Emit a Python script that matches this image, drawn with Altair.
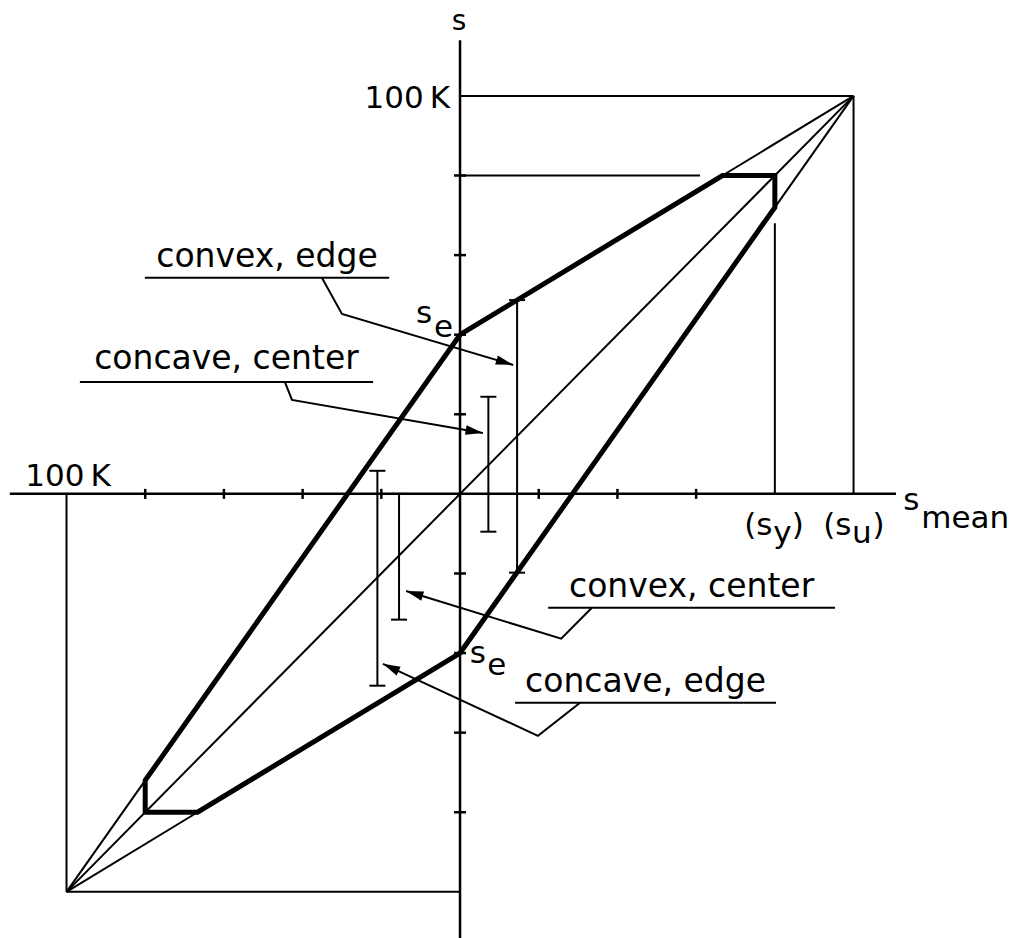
import math

import altair as alt
import pandas as pd

# Plot frame (values in K units)
W, H = 1033, 938
X_DOMAIN = [-116.9, 145.6]
Y_DOMAIN = [-111.6, 124.1]
FONT = "DejaVu Sans"
INK = "black"

# Envelope of allowed stress: fatigue lines clipped at yield (thick outline)
env_x = [0, 66.7, 80, 80, 0, -66.7, -80, -80, 0]
env_y = [40, 80, 80, 72, -40, -80, -80, -72, 40]

# Thin construction lines: (x1, y1) -> (x2, y2)
thin_x1 = [-100, 66.7, 80, -100, -100, 0, 100, -100, -100, 0, 80]
thin_y1 = [-100, 80, 72, -100, -100, 100, 100, -100, -100, 80, 68]
thin_x2 = [100, 100, 100, -80, -66.7, 100, 100, 0, -100, 61, 80]
thin_y2 = [100, 100, 100, -72, -80, 100, 0, -100, 0, 80, 0]

# Axes
axis_x1 = [-114.4, 0]
axis_y1 = [0, 114.0]
axis_x2 = [110.8, 0]
axis_y2 = [0, -112.0]

# Tick positions
x_ticks = [-80, -60, -40, -20, 20, 40, 60]
y_ticks = [-80, -60, -40, -20, 20, 40, 60, 80]

# Stress ranges: mean position, lower and upper stress
bar_x = [14.5, 7.2, -21.0, -15.5]
bar_lo = [-19.8, -9.5, -48.2, -31.6]
bar_hi = [48.7, 24.4, 5.8, 0.0]

# Callout labels, their underlines and leader lines (last point is the arrow tip)
labels = ["convex, edge", "concave, center", "convex, center", "concave, edge"]
under_x1 = [-80.1, -96.6, 22.4, 14.0]
under_x2 = [-18.0, -22.1, 95.3, 80.3]
under_y = [54.3, 28.1, -28.6, -52.5]
label_dy = [2.8, 3.2, 2.8, 2.6]
leader_x = [[-35.1, -30.0, 13.5], [-44.5, -42.7, 5.8], [33.5, 25.7, -13.7], [30.5, 19.8, -19.6]]
leader_y = [[54.3, 45.2, 32.4], [28.1, 23.6, 15.3], [-28.6, -36.4, -24.4], [-52.5, -60.8, -42.7]]

xs = alt.Scale(domain=X_DOMAIN, nice=False, zero=False)
ys = alt.Scale(domain=Y_DOMAIN, nice=False, zero=False)
kx = W / (X_DOMAIN[1] - X_DOMAIN[0])
ky = H / (Y_DOMAIN[1] - Y_DOMAIN[0])


def X(f="x"):
    return alt.X(f"{f}:Q", scale=xs, axis=None)


def Y(f="y"):
    return alt.Y(f"{f}:Q", scale=ys, axis=None)


# --- tables ---
env_df = pd.DataFrame({"x": env_x, "y": env_y, "o": range(len(env_x))})
thin_df = pd.DataFrame({"x": thin_x1, "y": thin_y1, "x2": thin_x2, "y2": thin_y2})
axis_df = pd.DataFrame({"x": axis_x1, "y": axis_y1, "x2": axis_x2, "y2": axis_y2})
xt_df = pd.DataFrame({"x": x_ticks, "y": [0] * len(x_ticks)})
yt_df = pd.DataFrame({"x": [0] * len(y_ticks), "y": y_ticks})
bar_df = pd.DataFrame({"x": bar_x, "y": bar_lo, "y2": bar_hi})
cap_df = pd.DataFrame({"x": bar_x + bar_x, "y": bar_lo + bar_hi})
under_df = pd.DataFrame({"x": under_x1, "x2": under_x2, "y": under_y})

lead_rows, head_rows = [], []
for i, (lx, ly) in enumerate(zip(leader_x, leader_y)):
    for j, (a, b) in enumerate(zip(lx, ly)):
        lead_rows.append({"g": i, "o": j, "x": a, "y": b})
    dx = (lx[-1] - lx[-2]) * kx
    dy = -(ly[-1] - ly[-2]) * ky
    head_rows.append({"x": lx[-1], "y": ly[-1], "ang": math.degrees(math.atan2(dy, dx)) % 360})
lead_df = pd.DataFrame(lead_rows)
head_df = pd.DataFrame(head_rows)

label_df = pd.DataFrame({
    "t": labels,
    "x": [(a + b) / 2 for a, b in zip(under_x1, under_x2)],
    "y": [u + d for u, d in zip(under_y, label_dy)],
})

# Free text pieces, left aligned at their start, alphabetic baseline
left_text = pd.DataFrame({
    "t": ["100\u2009K", "s", "e", "s", "e", "(s", "y", ")", "(s", "u", ")", "s", "mean"],
    "x": [-110.5, -11.2, -6.6, 2.5, 6.9, 72.2, 79.6, 84.3, 92.3, 99.6, 104.8, 112.6, 117.2],
    "y": [2.0, 43.0, 39.4, -42.5, -45.5, -10.3, -12.3, -10.3, -10.3, -12.3, -10.3, -4.0, -8.5],
})
right_text = pd.DataFrame({"t": ["100\u2009K"], "x": [-2.5], "y": [97.0]})
top_text = pd.DataFrame({"t": ["s"], "x": [-0.25], "y": [116.6]})

# --- layers ---
thin = alt.Chart(thin_df).mark_rule(color=INK, strokeWidth=2).encode(
    x=X(), y=Y(), x2="x2:Q", y2="y2:Q")
axes = alt.Chart(axis_df).mark_rule(color=INK, strokeWidth=2.5).encode(
    x=X(), y=Y(), x2="x2:Q", y2="y2:Q")
xt = alt.Chart(xt_df).mark_tick(
    orient="vertical", size=10, thickness=2.5, color=INK, opacity=1
).encode(x=X(), y=Y())
yt = alt.Chart(yt_df).mark_tick(
    orient="horizontal", size=12, thickness=2.5, color=INK, opacity=1
).encode(x=X(), y=Y())
env = alt.Chart(env_df).mark_line(color=INK, strokeWidth=5, strokeJoin="miter").encode(
    x=X(), y=Y(), order="o:Q")
bars = alt.Chart(bar_df).mark_rule(color=INK, strokeWidth=2).encode(
    x=X(), y=Y(), y2="y2:Q")
caps = alt.Chart(cap_df).mark_tick(
    orient="horizontal", size=16, thickness=2, color=INK, opacity=1
).encode(x=X(), y=Y())
unders = alt.Chart(under_df).mark_rule(color=INK, strokeWidth=2).encode(
    x=X(), y=Y(), x2="x2:Q")
leads = alt.Chart(lead_df).mark_line(color=INK, strokeWidth=2, strokeJoin="miter").encode(
    x=X(), y=Y(), detail="g:N", order="o:Q")
heads = alt.Chart(head_df).mark_point(
    shape="M0,0 L-2,-0.55 L-2,0.55 Z", size=300, filled=True, color=INK, opacity=1, strokeWidth=0
).encode(x=X(), y=Y(), angle=alt.Angle("ang:Q", scale=None))

txt_kw = dict(font=FONT, fontSize=31, color=INK, baseline="alphabetic")
lab = alt.Chart(label_df).mark_text(
    align="center", font=FONT, fontSize=33, color=INK, baseline="alphabetic"
).encode(x=X(), y=Y(), text="t:N")
ltxt = alt.Chart(left_text).mark_text(align="left", **txt_kw).encode(x=X(), y=Y(), text="t:N")
rtxt = alt.Chart(right_text).mark_text(align="right", **txt_kw).encode(x=X(), y=Y(), text="t:N")
ttxt = alt.Chart(top_text).mark_text(
    align="center", font=FONT, fontSize=28, color=INK, baseline="alphabetic"
).encode(x=X(), y=Y(), text="t:N")

chart = alt.layer(
    thin, axes, xt, yt, bars, caps, env, unders, leads, heads, lab, ltxt, rtxt, ttxt
).properties(
    width=W, height=H, padding=0, autosize=alt.AutoSizeParams(type="none"), background="white"
).configure_view(stroke=None)

chart.save("out.html", embed_options={"renderer": "svg", "actions": False})
